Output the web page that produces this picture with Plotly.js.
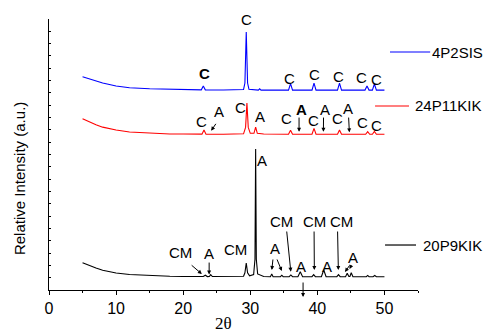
<!DOCTYPE html>
<html>
<head>
<meta charset="utf-8">
<script src="https://cdn.plot.ly/plotly-3.0.1.min.js"></script>
<style>html,body{margin:0;padding:0;background:#fff;}#chart{width:485px;height:334px;}</style>
</head>
<body>
<div id="chart"></div>
<script>
// ---- Data (2θ in degrees, intensity in stacked axis units) ----
const seriesNames = ['4P2SIS', '24P11KIK', '20P9KIK'];

const x4P2SIS = [5,6,7,8,10,12,15,18,20,22.7,23.0,23.3,26,28,29.0,29.2,29.4,29.6,29.8,31.2,31.4,31.6,35.7,36.0,36.3,39.2,39.5,39.8,43.0,43.3,43.6,47.1,47.4,47.7,48.2,48.5,48.8,50];
const y4P2SIS = [17.31,17.12,16.96,16.8,16.56,16.42,16.34,16.29,16.27,16.25,16.56,16.25,16.24,16.24,16.28,16.8,20.94,16.8,16.3,16.23,16.33,16.23,16.23,16.76,16.23,16.23,16.8,16.23,16.23,16.8,16.23,16.23,16.56,16.23,16.23,16.72,16.23,16.23];

const x24P11KIK = [5,6,7,8,10,12,15,18,20,22.8,23.1,23.4,26,28,29.0,29.3,29.5,29.7,30.0,30.55,30.8,31.05,32,35.7,36.0,36.3,39.2,39.5,39.8,43.0,43.3,43.6,47.2,47.5,47.8,48.2,48.5,48.8,50];
const y24P11KIK = [13.9,13.65,13.42,13.22,12.99,12.83,12.72,12.67,12.66,12.65,12.99,12.65,12.64,12.64,12.68,13.2,15.18,13.2,12.72,12.72,13.23,12.72,12.66,12.64,12.96,12.64,12.64,13.12,12.64,12.64,12.99,12.64,12.64,12.85,12.64,12.64,12.87,12.64,12.64];

const x20P9KIK = [5,6,7,8,9,10,12,14,16,18,20,22,23.0,23.3,23.6,23.9,24.1,24.35,26,28,29.0,29.2,29.4,29.6,29.9,30.5,30.7,30.8,30.9,31.1,32,33.0,33.2,33.4,34.5,34.7,34.9,35.8,36.05,36.3,37.1,37.45,37.8,39.2,39.45,39.7,40.6,40.95,41.3,42.9,43.15,43.4,44.2,44.45,44.7,44.85,45.05,45.3,47.3,47.5,47.7,48.3,48.55,48.8,50];
const y20P9KIK = [2.22,1.98,1.78,1.6,1.47,1.38,1.26,1.2,1.15,1.12,1.1,1.09,1.09,1.2,1.09,1.1,1.25,1.09,1.08,1.08,1.12,1.4,2.19,1.4,1.15,1.25,2.5,11.44,2.5,1.3,1.1,1.08,1.3,1.08,1.08,1.2,1.08,1.08,1.22,1.08,1.08,1.48,1.08,1.08,1.25,1.08,1.08,1.62,1.08,1.08,1.25,1.08,1.08,1.35,1.1,1.1,1.4,1.08,1.08,1.18,1.08,1.08,1.18,1.08,1.08];

const xTickVals = [0,10,20,30,40,50];

// ---- Traces ----
const colors = ['#0000ff', '#ff0000', '#000000'];
const xs = [x4P2SIS, x24P11KIK, x20P9KIK];
const ys = [y4P2SIS, y24P11KIK, y20P9KIK];
const traces = xs.map((x, i) => ({
  x: x, y: ys[i], type: 'scatter', mode: 'lines', name: seriesNames[i],
  line: {color: colors[i], width: 1.1}, hoverinfo: 'skip'
}));

// ---- Peak labels ----
const F = 'Liberation Sans, Arial, sans-serif';
function lbl(text, x, y, bold) {
  return {text: bold ? '<b>' + text + '</b>' : text, x: x, y: y, xref: 'x', yref: 'y',
    showarrow: false, font: {family: F, size: 15, color: '#000'}, xanchor: 'center', yanchor: 'middle'};
}
function arr(tx, ty, hx, hy) {
  return {text: '', x: hx, y: hy, ax: tx, ay: ty, xref: 'x', yref: 'y', axref: 'x', ayref: 'y',
    showarrow: true, arrowhead: 2, arrowsize: 0.8, arrowwidth: 1, arrowcolor: '#000', standoff: 0, startstandoff: 0};
}
const annotations = [
  // blue
  lbl('C', 23.14, 17.61, true), lbl('C', 29.47, 21.97), lbl('C', 35.83, 17.18), lbl('C', 39.55, 17.51),
  lbl('C', 43.19, 17.37), lbl('C', 46.61, 17.23), lbl('C', 48.84, 17.1),
  // red
  lbl('C', 22.78, 13.66), lbl('A', 25.41, 14.47), arr(25.02, 13.61, 24.17, 12.93),
  lbl('C', 28.49, 14.8), lbl('A', 31.47, 14.07), lbl('C', 35.44, 13.94),
  lbl('A', 37.68, 14.69, true), arr(37.27, 14.12, 37.27, 12.85),
  lbl('C', 39.4, 13.8), lbl('A', 41.15, 14.69), arr(40.92, 14.12, 40.9, 12.85),
  lbl('C', 42.98, 13.94), lbl('A', 44.62, 14.75), arr(44.65, 14.12, 44.77, 12.8),
  lbl('C', 46.76, 13.58), lbl('C', 48.84, 13.39),
  // black
  lbl('A', 31.77, 10.5),
  lbl('CM', 19.55, 3.03), arr(21.04, 2.11, 22.78, 1.3),
  lbl('A', 23.92, 2.98), arr(23.87, 2.35, 23.87, 1.26),
  lbl('CM', 27.74, 3.25),
  lbl('A', 33.7, 3.38), arr(33.4, 2.6, 33.21, 1.62), arr(33.9, 2.6, 34.7, 1.54),
  lbl('CM', 34.7, 5.54), arr(35.41, 4.87, 36.04, 1.49),
  lbl('A', 37.57, 1.89),
  lbl('CM', 39.51, 5.54), arr(39.51, 4.87, 39.55, 1.62),
  lbl('A', 41.49, 1.89),
  lbl('CM', 43.63, 5.54), arr(43.01, 4.87, 43.13, 1.62),
  lbl('A', 45.36, 2.65), arr(44.94, 2.11, 44.12, 1.46), arr(45.17, 2.11, 44.8, 1.7),
  arr(37.87, 0.73, 37.87, -0.57),
  // series labels
  {text: seriesNames[0], x: 1.0325, y: 0.8782, xref: 'paper', yref: 'paper', xanchor: 'left', yanchor: 'middle', showarrow: false, font: {family: F, size: 15, color: '#000'}},
  {text: seriesNames[1], x: 0.9864, y: 0.679, xref: 'paper', yref: 'paper', xanchor: 'left', yanchor: 'middle', showarrow: false, font: {family: F, size: 15, color: '#000'}},
  {text: seriesNames[2], x: 1.0081, y: 0.166, xref: 'paper', yref: 'paper', xanchor: 'left', yanchor: 'middle', showarrow: false, font: {family: F, size: 15, color: '#000'}},
  // axis titles
  {text: '2θ', x: 0.473, y: -0.122, xref: 'paper', yref: 'paper', xanchor: 'center', yanchor: 'middle', showarrow: false, font: {family: 'Liberation Serif, Times New Roman, serif', size: 17, color: '#000'}},
  {text: 'Relative Intensity (a.u.)', x: -0.078, y: 0.41, xref: 'paper', yref: 'paper', xanchor: 'center', yanchor: 'middle', textangle: -90, showarrow: false, font: {family: F, size: 15, color: '#000'}}
];

const shapes = [
  {type: 'line', xref: 'paper', yref: 'paper', x0: 0.924, x1: 1.033, y0: 0.8782, y1: 0.8782, line: {color: colors[0], width: 1.2}},
  {type: 'line', xref: 'paper', yref: 'paper', x0: 0.8836, x1: 0.9757, y0: 0.679, y1: 0.679, line: {color: colors[1], width: 1.2}},
  {type: 'line', xref: 'paper', yref: 'paper', x0: 0.9107, x1: 0.9946, y0: 0.166, y1: 0.166, line: {color: colors[2], width: 1.2}}
];

const layout = {
  width: 485, height: 334,
  margin: {l: 49, r: 67, t: 19, b: 44, pad: 0},
  paper_bgcolor: '#fff', plot_bgcolor: '#fff',
  showlegend: false,
  xaxis: {
    range: [0, 55], tickvals: xTickVals, ticktext: xTickVals.map(String),
    ticks: 'outside', ticklen: 4, tickwidth: 1, tickcolor: '#000',
    minor: {dtick: 5, tick0: 0, ticks: 'outside', ticklen: 2, tickcolor: '#000', showgrid: false},
    showline: true, linecolor: '#000', linewidth: 1, showgrid: false, zeroline: false,
    tickfont: {family: F, size: 16, color: '#000'}
  },
  yaxis: {
    range: [0, 22], dtick: 1, tick0: 0, ticks: 'inside', ticklen: 2, tickwidth: 1, tickcolor: '#000',
    showticklabels: false, showline: true, linecolor: '#000', linewidth: 1, showgrid: false, zeroline: false
  },
  annotations: annotations,
  shapes: shapes
};

Plotly.newPlot('chart', traces, layout, {staticPlot: true, displayModeBar: false});
</script>
</body>
</html>
